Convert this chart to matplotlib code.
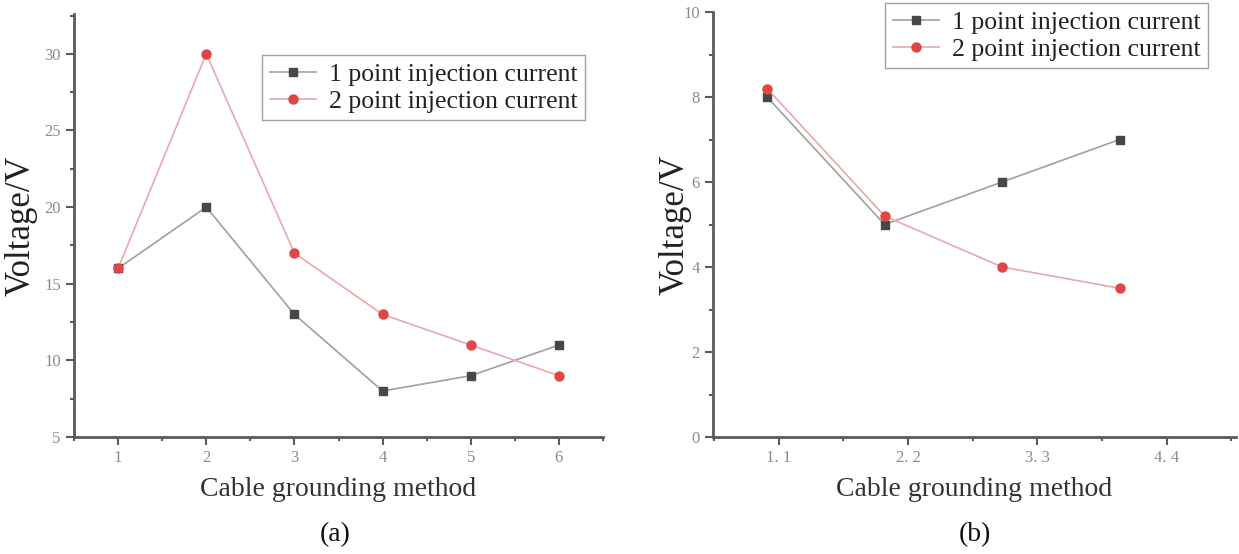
import matplotlib
matplotlib.use("Agg")
import matplotlib.pyplot as plt
from matplotlib.ticker import MultipleLocator, FixedLocator

plt.rcParams['font.family'] = ['Liberation Serif', 'DejaVu Serif']

# Panel (a)
a_x = [1, 2, 3, 4, 5, 6]
a_one = [16, 20, 13, 8, 9, 11]
a_two = [16, 30, 17, 13, 11, 9]
a_yticks = [5, 10, 15, 20, 25, 30]

# Panel (b)
b_x = [1, 2, 3, 4]
b_one = [8, 5, 6, 7]
b_two = [8.2, 5.2, 4, 3.5]
b_xticks = [1.1, 2.2, 3.3, 4.4]
b_xticklabels = ['1. 1', '2. 2', '3. 3', '4. 4']
b_yticks = [0, 2, 4, 6, 8, 10]

labels = ['1 point injection current', '2 point injection current']

W, H = 1239, 554
fig = plt.figure(figsize=(W / 100, H / 100), dpi=100)

A_L, A_R, A_T, A_B = 74, 603, 14, 437
B_L, B_R, B_T, B_B = 713, 1236, 12, 437
axA = fig.add_axes([A_L / W, (H - A_B) / H, (A_R - A_L) / W, (A_B - A_T) / H])
axB = fig.add_axes([B_L / W, (H - B_B) / H, (B_R - B_L) / W, (B_B - B_T) / H])

c1_line, c1_mark = '#a0a0a0', '#474747'
c2_line, c2_mark = '#eaa8a8', '#e04646'

def style(ax, lab_x):
    for s in ['top', 'right']:
        ax.spines[s].set_visible(False)
    for s in ['left', 'bottom']:
        ax.spines[s].set_color('#5a5a5a')
        ax.spines[s].set_linewidth(2)
    ax.tick_params(which='major', direction='out', length=6, width=1.5,
                   color='#5a5a5a', labelcolor='#8a8a8a', labelsize=12)
    ax.tick_params(which='minor', direction='out', length=3, width=1.5, color='#5a5a5a')
    ax.set_xlabel('Cable grounding method', fontsize=20, color='#333333', labelpad=8)
    ax.set_ylabel('Voltage/V', fontsize=25, color='#222222', va='center')
    ax.yaxis.set_label_coords(lab_x, 0.5)

def add_legend(ax, left_px, top_px, L, R, T, B):
    leg = ax.legend(loc='upper left',
                    bbox_to_anchor=((left_px - L) / (R - L), 1 - (top_px - T) / (B - T)),
                    fontsize=18.5, frameon=True, fancybox=False, edgecolor='#8a8a8a',
                    handlelength=1.8, borderpad=0.3, labelspacing=0.15, handletextpad=0.5,
                    borderaxespad=0)
    leg.get_frame().set_linewidth(1.0)
    for t in leg.get_texts():
        t.set_color('#222222')
    return leg

# Panel (a)
axA.plot(a_x, a_one, color=c1_line, lw=1.2, marker='s', ms=5.5,
         mfc=c1_mark, mec=c1_mark, label=labels[0], zorder=3)
axA.plot(a_x, a_two, color=c2_line, lw=1.2, marker='o', ms=6.5,
         mfc=c2_mark, mec=c2_mark, label=labels[1], zorder=4)
axA.set_xlim(0.5, 6.5)
axA.set_ylim(5, 32.6)
axA.set_xticks(a_x)
axA.xaxis.set_minor_locator(FixedLocator([0.5, 1.5, 2.5, 3.5, 4.5, 5.5, 6.5]))
axA.set_yticks(a_yticks)
axA.yaxis.set_minor_locator(MultipleLocator(2.5))
style(axA, (21 - A_L) / (A_R - A_L))
add_legend(axA, 262, 55, A_L, A_R, A_T, A_B)

# Panel (b)
axB.plot(b_x, b_one, color=c1_line, lw=1.2, marker='s', ms=5.5,
         mfc=c1_mark, mec=c1_mark, label=labels[0], zorder=3)
axB.plot(b_x, b_two, color=c2_line, lw=1.2, marker='o', ms=6.5,
         mfc=c2_mark, mec=c2_mark, label=labels[1], zorder=4)
axB.set_xlim(0.54, 4.99)
axB.set_ylim(0, 10)
axB.set_xticks(b_xticks)
axB.set_xticklabels(b_xticklabels)
axB.xaxis.set_minor_locator(FixedLocator([0.55, 1.65, 2.75, 3.85, 4.95]))
axB.set_yticks(b_yticks)
axB.yaxis.set_minor_locator(MultipleLocator(1))
style(axB, (675 - B_L) / (B_R - B_L))
add_legend(axB, 885, 3, B_L, B_R, B_T, B_B)

fig.text(335 / W, 1 - 535 / H, '(a)', fontsize=20, ha='center', va='center', color='#111111')
fig.text(975 / W, 1 - 535 / H, '(b)', fontsize=20, ha='center', va='center', color='#111111')

fig.savefig('out.png', dpi=100, facecolor='white')
